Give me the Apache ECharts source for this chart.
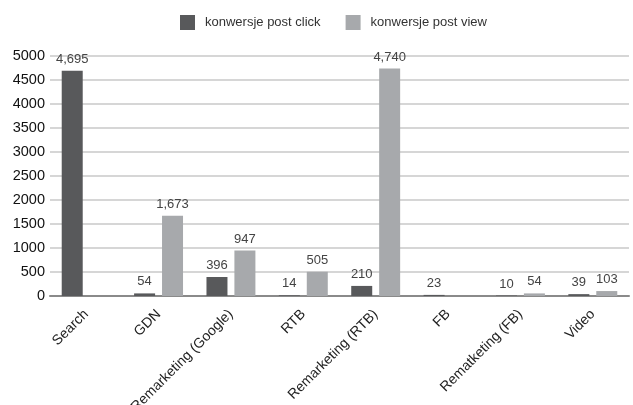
<!DOCTYPE html>
<html><head><meta charset="utf-8">
<script src="https://cdn.jsdelivr.net/npm/echarts@6/dist/echarts.min.js"></script>
<style>html,body{margin:0;padding:0;background:#fff}#c{width:633px;height:405px}</style>
</head><body><div id="c"></div>
<script>
const categories = ["Search","GDN","Remarketing (Google)","RTB","Remarketing (RTB)","FB","Rematketing (FB)","Video"];
const postClick = [4695, 54, 396, 14, 210, 23, 10, 39];
const postView = [null, 1673, 947, 505, 4740, null, 54, 103];
const yTicks = {min:0, max:5000, interval:500};
const font = "'Liberation Sans', Arial, sans-serif";
const fmt = p => p.value == null ? '' : Number(p.value).toLocaleString('en-US');
const chart = echarts.init(document.getElementById('c'), null, {renderer:'canvas'});
chart.setOption({
  animation:false,
  textStyle:{fontFamily:font},
  legend:{top:10, left:175, itemWidth:15, itemHeight:15, itemGap:25,
    icon:'rect', textStyle:{fontSize:13, color:'#333', fontFamily:font, padding:[0,0,0,5]}},
  grid:{left:50, right:4, top:56, bottom:109, containLabel:false, outerBoundsMode:'none'},
  xAxis:{type:'category', data:categories,
    axisLine:{lineStyle:{color:'#8a8a8a', width:2}},
    axisTick:{show:false},
    axisLabel:{rotate:45, fontSize:14, color:'#222', interval:0, margin:16, fontFamily:font}},
  yAxis:{type:'value', min:yTicks.min, max:yTicks.max, interval:yTicks.interval,
    axisLine:{show:false}, axisTick:{show:false},
    axisLabel:{fontSize:14.5, color:'#111', margin:5, fontFamily:font, formatter: v => String(v)},
    splitLine:{lineStyle:{color:'#d6d6d6', width:2}}},
  series:[
    {name:'konwersje post click', type:'bar', data:postClick, barWidth:21, barGap:'33%',
     itemStyle:{color:'#58595b'},
     label:{show:true, position:'top', distance:5, fontSize:13, color:'#444', formatter:fmt, fontFamily:font}},
    {name:'konwersje post view', type:'bar', data:postView, barWidth:21,
     itemStyle:{color:'#a7a9ac'},
     label:{show:true, position:'top', distance:5, fontSize:13, color:'#444', formatter:fmt, fontFamily:font}}
  ]
});
</script></body></html>
